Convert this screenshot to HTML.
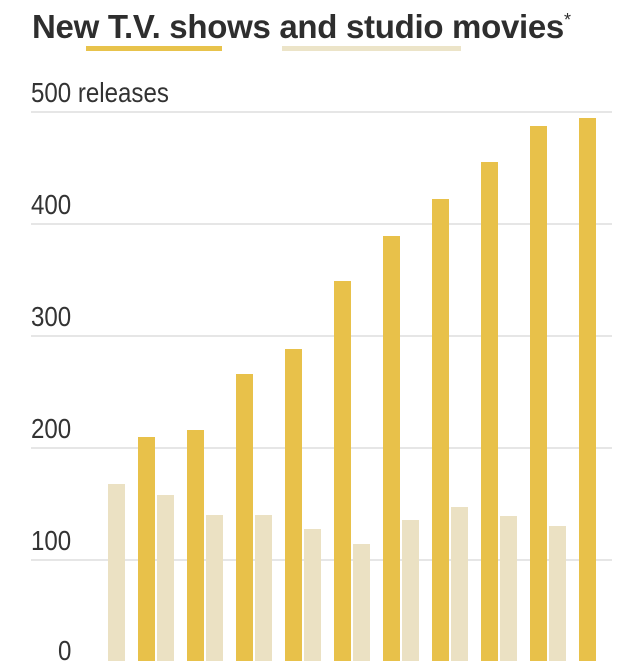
<!DOCTYPE html><html><head><style>
body{margin:0;background:#fff;width:640px;height:661px;overflow:hidden;position:relative;font-family:"Liberation Sans Narrow","Liberation Sans",sans-serif;color:#333}
.t{position:absolute;left:32px;top:8px;font-size:33px;font-weight:bold;letter-spacing:-0.3px;white-space:nowrap;color:#2e2e2e}
.u{position:absolute;height:5px}
.l{position:absolute;font-size:28px;color:#333;left:31px;transform:scaleX(0.86);transform-origin:left;white-space:nowrap}
.g{position:absolute;left:31px;width:581px;height:2px;background:#e6e6e6}
.b{position:absolute;bottom:0}
</style></head><body>
<div class="u" style="left:86px;top:46px;width:136px;background:#e8c34c"></div>
<div class="u" style="left:282px;top:46px;width:179px;background:#ece4c8"></div>
<div class="t">New T.V. shows and studio movies<sup style="font-size:18px;font-weight:normal">*</sup></div>
<div class="g" style="top:111px"></div><div class="g" style="top:223px"></div><div class="g" style="top:335px"></div><div class="g" style="top:447px"></div><div class="g" style="top:559px"></div>
<div class="l" style="top:77px">500 releases</div>
<div class="l" style="top:189px">400</div>
<div class="l" style="top:301px">300</div>
<div class="l" style="top:413px">200</div>
<div class="l" style="top:525px">100</div>
<div class="l" style="top:635px;left:58px">0</div>
<div id="bars"></div>
<script>
var gold=[437,430,374,349,281,236,199,162,126,118],light=[484,495,515,515,529,544,520,507,516,526],h="";
for(var i=0;i<10;i++){var x=108+i*49;
h+='<div class="b" style="left:'+x+'px;width:17px;top:'+light[i]+'px;background:#ebe1c3"></div>';
h+='<div class="b" style="left:'+(x+30)+'px;width:17px;top:'+gold[i]+'px;background:#e8c14a"></div>';}
document.getElementById('bars').innerHTML=h;
</script>
</body></html>
